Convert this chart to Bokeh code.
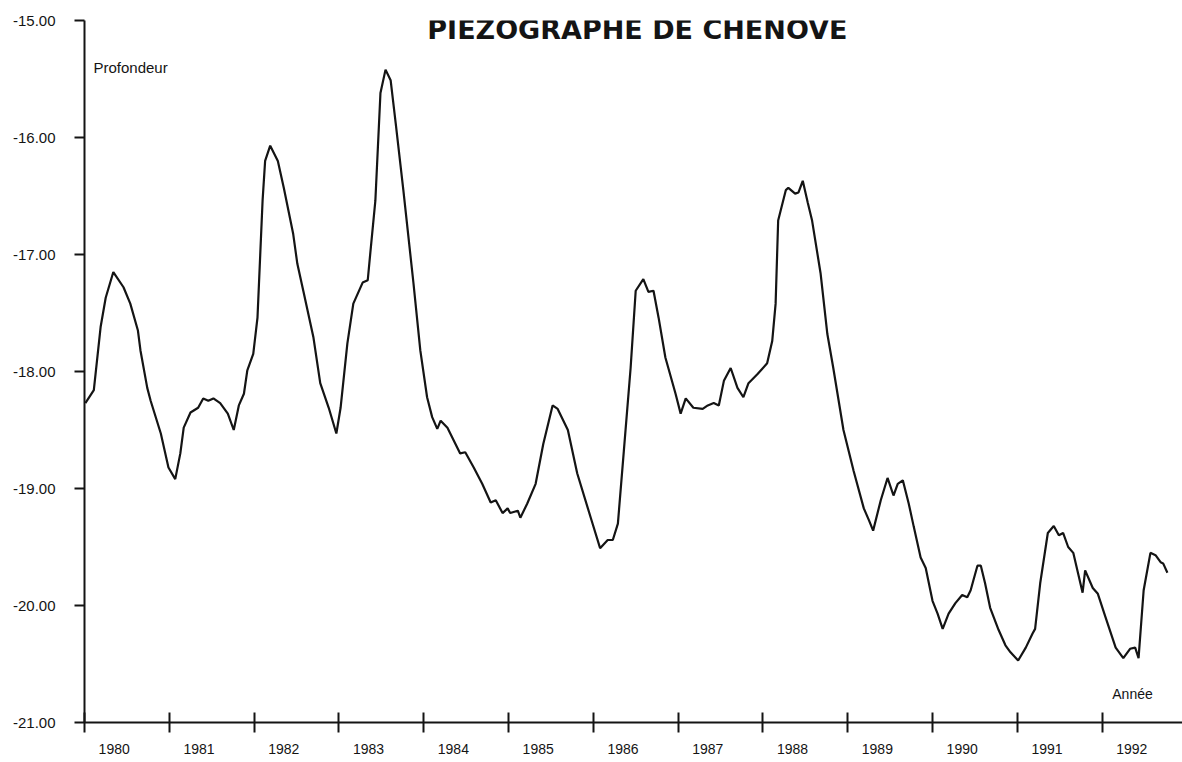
from bokeh.plotting import figure
from bokeh.models import (Range1d, FixedTicker, PrintfTickFormatter,
                          CustomJSTickFormatter, Label)
from bokeh.embed import file_html
from bokeh.resources import INLINE

# ---- data ----
years = [1980.01, 1980.11, 1980.19, 1980.25, 1980.34, 1980.46, 1980.54, 1980.63, 1980.66, 1980.74,
         1980.78, 1980.90, 1980.99, 1981.07, 1981.13, 1981.17, 1981.25, 1981.34, 1981.40, 1981.46,
         1981.52, 1981.60, 1981.69, 1981.76, 1981.82, 1981.88, 1981.92, 1981.99, 1982.04, 1982.10,
         1982.13, 1982.19, 1982.28, 1982.35, 1982.46, 1982.51, 1982.58, 1982.70, 1982.78, 1982.88,
         1982.97, 1983.02, 1983.10, 1983.17, 1983.28, 1983.34, 1983.37, 1983.43, 1983.49, 1983.55,
         1983.61, 1983.67, 1983.76, 1983.88, 1983.96, 1984.04, 1984.10, 1984.16, 1984.20, 1984.28,
         1984.43, 1984.49, 1984.59, 1984.69, 1984.79, 1984.85, 1984.93, 1984.99, 1985.02, 1985.11,
         1985.14, 1985.22, 1985.32, 1985.41, 1985.52, 1985.58, 1985.70, 1985.81, 1985.97, 1986.08,
         1986.17, 1986.23, 1986.29, 1986.36, 1986.44, 1986.50, 1986.59, 1986.65, 1986.71, 1986.77,
         1986.85, 1986.97, 1987.03, 1987.09, 1987.18, 1987.29, 1987.35, 1987.42, 1987.48, 1987.54,
         1987.62, 1987.70, 1987.77, 1987.83, 1987.94, 1988.05, 1988.11, 1988.15, 1988.18, 1988.27,
         1988.30, 1988.38, 1988.42, 1988.47, 1988.53, 1988.58, 1988.68, 1988.76, 1988.83, 1988.95,
         1989.07, 1989.19, 1989.25, 1989.30, 1989.39, 1989.47, 1989.54, 1989.59, 1989.65, 1989.72,
         1989.78, 1989.86, 1989.92, 1990.00, 1990.06, 1990.12, 1990.19, 1990.27, 1990.35, 1990.41,
         1990.45, 1990.48, 1990.53, 1990.57, 1990.62, 1990.68, 1990.78, 1990.86, 1990.92, 1991.01,
         1991.10, 1991.18, 1991.21, 1991.27, 1991.36, 1991.43, 1991.49, 1991.54, 1991.60, 1991.66,
         1991.77, 1991.80, 1991.89, 1991.95, 1992.04, 1992.16, 1992.25, 1992.33, 1992.39, 1992.43,
         1992.49, 1992.57, 1992.63, 1992.69, 1992.72, 1992.77]

depth = [-18.27, -18.16, -17.62, -17.37, -17.15, -17.28, -17.42, -17.65, -17.82, -18.14,
         -18.25, -18.53, -18.82, -18.92, -18.70, -18.48, -18.35, -18.31, -18.23, -18.25,
         -18.23, -18.27, -18.36, -18.50, -18.29, -18.19, -17.99, -17.85, -17.54, -16.54,
         -16.20, -16.07, -16.20, -16.43, -16.82, -17.08, -17.31, -17.71, -18.10, -18.31,
         -18.53, -18.31, -17.76, -17.42, -17.24, -17.22, -16.99, -16.54, -15.62, -15.42,
         -15.51, -15.88, -16.45, -17.25, -17.82, -18.22, -18.39, -18.49, -18.42, -18.48,
         -18.70, -18.69, -18.82, -18.96, -19.12, -19.10, -19.21, -19.17, -19.21, -19.19,
         -19.25, -19.13, -18.96, -18.62, -18.29, -18.32, -18.50, -18.87, -19.25, -19.51,
         -19.44, -19.44, -19.30, -18.68, -17.97, -17.31, -17.21, -17.32, -17.31, -17.54,
         -17.88, -18.19, -18.36, -18.23, -18.31, -18.32, -18.29, -18.27, -18.29, -18.08,
         -17.97, -18.14, -18.22, -18.10, -18.02, -17.93, -17.74, -17.42, -16.71, -16.45,
         -16.43, -16.48, -16.47, -16.37, -16.56, -16.71, -17.16, -17.68, -17.97, -18.50,
         -18.85, -19.17, -19.27, -19.36, -19.10, -18.91, -19.06, -18.96, -18.93, -19.13,
         -19.33, -19.59, -19.68, -19.96, -20.07, -20.20, -20.07, -19.98, -19.91, -19.93,
         -19.87, -19.79, -19.66, -19.66, -19.81, -20.02, -20.21, -20.34, -20.40, -20.47,
         -20.36, -20.24, -20.20, -19.81, -19.38, -19.32, -19.40, -19.38, -19.50, -19.55,
         -19.89, -19.70, -19.85, -19.90, -20.10, -20.36, -20.45, -20.37, -20.36, -20.45,
         -19.87, -19.55, -19.57, -19.63, -19.64, -19.72]

year_ticks = list(range(1980, 1993))
year_labels = [str(y) for y in year_ticks]
depth_ticks = [-21, -20, -19, -18, -17, -16, -15]

title_text = "PIEZOGRAPHE DE CHENOVE"
y_title = "Profondeur"
x_title = "Ann\u00e9e"

INK = "#141414"
FONT = "Liberation Sans"
LABEL_OFFSET = 0.35   # year labels sit a third of the way into each year

p = figure(width=1182, height=760, output_backend="svg", toolbar_location=None,
           x_range=Range1d(1980, 1980 + 1098 / 84.8), y_range=Range1d(-21, -15),
           min_border_left=84, min_border_right=0, min_border_top=20, min_border_bottom=38)
p.outline_line_color = None
p.xgrid.visible = False
p.ygrid.visible = False
p.background_fill_color = "white"
p.border_fill_color = "white"

p.line(years, depth, line_color=INK, line_width=2.2)

# x axis: labelled (invisible) major ticks inside each year, visible minor ticks at year boundaries
label_pos = [y + LABEL_OFFSET for y in year_ticks]
xa = p.xaxis[0]
xa.ticker = FixedTicker(ticks=label_pos, minor_ticks=year_ticks)
xa.formatter = CustomJSTickFormatter(args=dict(off=LABEL_OFFSET),
                                     code="return String(Math.round(tick - off));")
xa.major_tick_in = 0
xa.major_tick_out = 10
xa.major_tick_line_color = None
xa.minor_tick_in = 10
xa.minor_tick_out = 10
xa.minor_tick_line_width = 2
xa.minor_tick_line_color = INK
xa.axis_line_width = 2
xa.axis_line_color = INK
xa.major_label_standoff = 11
xa.major_label_text_font = FONT
xa.major_label_text_font_size = "14px"
xa.major_label_text_color = INK

ya = p.yaxis[0]
ya.ticker = FixedTicker(ticks=depth_ticks)
ya.formatter = PrintfTickFormatter(format="%.2f")
ya.major_tick_in = 0
ya.major_tick_out = 10
ya.minor_tick_line_color = None
ya.major_label_standoff = 19
ya.major_label_text_font = FONT
ya.major_label_text_font_size = "15px"
ya.major_label_text_color = INK
ya.axis_line_width = 2
ya.axis_line_color = INK
ya.major_tick_line_width = 2
ya.major_tick_line_color = INK

p.add_layout(Label(x=1986.52, y=-15.075, text=title_text, text_align="center",
                   text_baseline="alphabetic", text_font="DejaVu Sans", text_font_style="bold",
                   text_font_size="27px", text_color=INK))
p.add_layout(Label(x=1980.106, y=-15.40, text=y_title, text_align="left",
                   text_baseline="alphabetic", text_font=FONT, text_font_size="15px",
                   text_color=INK))
p.add_layout(Label(x=1992.12, y=-20.76, text=x_title, text_align="left",
                   text_baseline="alphabetic", text_font=FONT, text_font_size="14px",
                   text_color=INK))

open("out.html", "w").write(file_html(p, INLINE))
